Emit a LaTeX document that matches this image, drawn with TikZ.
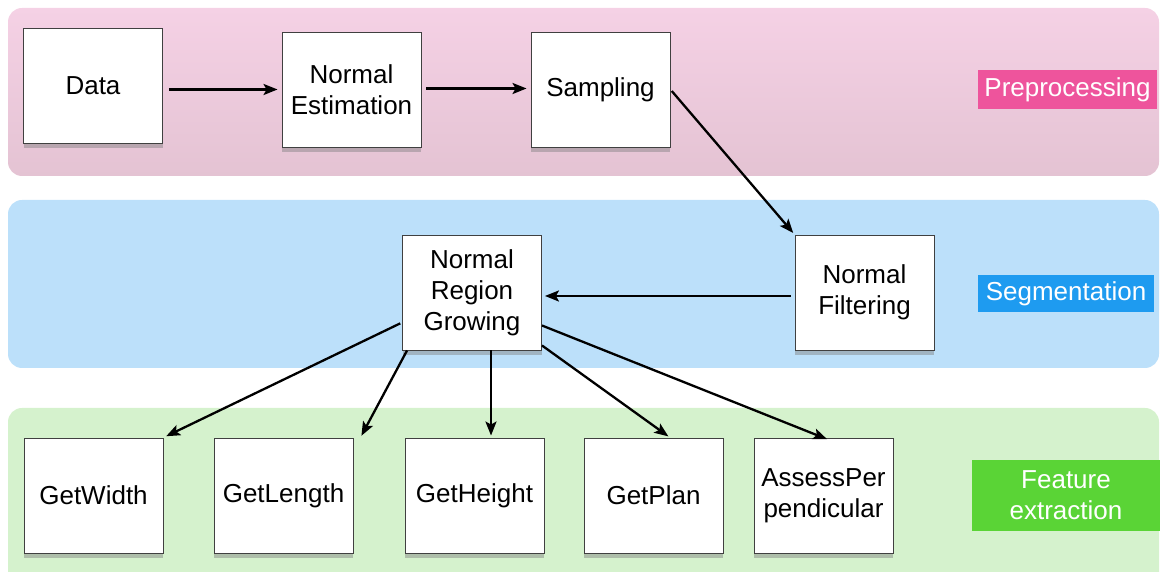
\documentclass[tikz,border=0pt]{standalone}
\usepackage{fontspec}
\setmainfont{Liberation Sans}
\usetikzlibrary{shadows,arrows.meta}
\definecolor{bandpinktop}{HTML}{F5D1E5}
\definecolor{bandpinkbot}{HTML}{E4C3D3}
\definecolor{bandblue}{HTML}{BCE0FA}
\definecolor{bandgreen}{HTML}{D5F2CD}
\definecolor{tagpink}{HTML}{EE549C}
\definecolor{tagblue}{HTML}{1E9BF0}
\definecolor{taggreen}{HTML}{5AD436}

\begin{document}
\begin{tikzpicture}[x=1pt,y=1pt,>={Stealth[length=14pt,width=11pt,inset=3pt]},
  stage/.style={draw=black!75,line width=0.9pt,fill=white,minimum width=139pt,minimum height=115pt,
    align=center,inner sep=2pt,font=\fontsize{26}{31}\selectfont,
    drop shadow={shadow xshift=0pt,shadow yshift=-5pt,opacity=0.45}},
  phase/.style={text=white,inner sep=0pt,align=center,font=\fontsize{26}{31}\selectfont},
  flow/.style={->,line width=2.3pt}]
  \useasboundingbox (0,0) rectangle (1160,572);
  % bands
  \shade[top color=bandpinktop,bottom color=bandpinkbot,rounded corners=14pt] (8,396) rectangle (1159,564);
  \fill[bandblue,rounded corners=14pt] (8,204) rectangle (1159,372);
  \fill[bandgreen,rounded corners=14pt] (8,-30) rectangle (1159,164);
  % phase tags
  \node[phase,fill=tagpink,minimum width=179pt,minimum height=39pt] (pre) at (1067.5,482.5) {Preprocessing};
  \node[phase,fill=tagblue,minimum width=176pt,minimum height=37pt] (seg) at (1066,278.5) {Segmentation};
  \node[phase,fill=taggreen,minimum width=188pt,minimum height=71pt] (feat) at (1066,76.5) {Feature\\extraction};
  % preprocessing
  \node[stage] (data) at (93,486.5) {Data};
  \node[stage] (est) at (351.5,482.5) {Normal\\Estimation};
  \node[stage] (samp) at (600.5,482.5) {Sampling};
  % segmentation
  \node[stage] (filt) at (864.5,279.5) {Normal\\Filtering};
  \node[stage] (grow) at (472,279.5) {Normal\\Region\\Growing};
  % feature extraction
  \node[stage] (width) at (93.5,76.5) {GetWidth};
  \node[stage] (length) at (283.5,76.5) {GetLength};
  \node[stage] (height) at (474.5,76.5) {GetHeight};
  \node[stage] (plan) at (653.5,76.5) {GetPlan};
  \node[stage] (perp) at (823.5,76.5) {AssessPer\\pendicular};
  % connectors
  \draw[flow,shorten <=6pt,shorten >=4pt] ([yshift=-4pt]data.east) -- ([yshift=0pt]est.west);
  \draw[flow,shorten <=5pt,shorten >=4pt] ([yshift=1pt]est.east) -- ([yshift=1pt]samp.west);
  \draw[flow,shorten <=2pt,shorten >=2pt] (samp.east) -- (filt.north west);
  \draw[flow,shorten <=4pt,shorten >=3pt] ([yshift=-3.5pt]filt.west) -- ([yshift=-3.5pt]grow.east);
  \draw[flow,shorten <=2pt,shorten >=3pt] ([yshift=-30pt]grow.west) -- (width.north east);
  \draw[flow,shorten >=2pt] ([xshift=5pt]grow.south west) -- ([xshift=7pt]length.north east);
  \draw[flow,shorten >=2pt] ([xshift=19pt]grow.south) -- ([xshift=16.5pt]height.north);
  \draw[flow,shorten >=2pt] ([yshift=5pt]grow.south east) -- ([xshift=16.5pt]plan.north);
  \draw[flow,shorten >=1pt] ([yshift=-33pt]grow.east) -- ([xshift=4.5pt,yshift=-2pt]perp.north);
\end{tikzpicture}
\end{document}
